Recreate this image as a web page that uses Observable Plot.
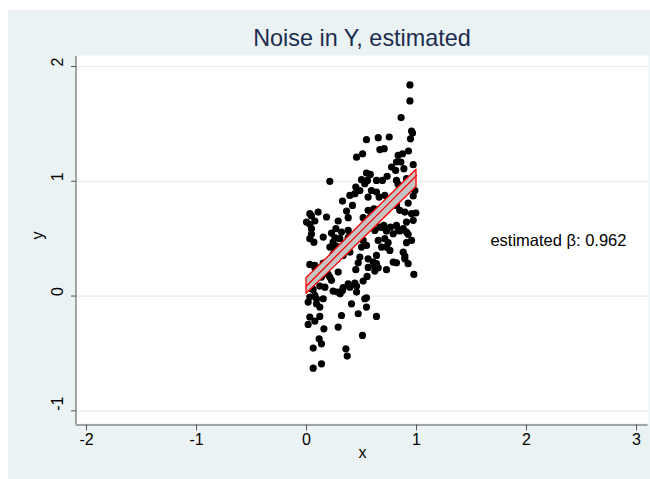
<!DOCTYPE html>
<html><head><meta charset="utf-8">
<script src="https://cdn.jsdelivr.net/npm/d3@7"></script>
<script src="https://cdn.jsdelivr.net/npm/@observablehq/plot@0.6"></script>
<style>
body{margin:0;background:#fff;font-family:"Liberation Sans",Arial,sans-serif;}
#bg{position:absolute;left:8px;top:10px;width:642px;height:469px;background:#eaf2f3;}
#title{position:absolute;left:76px;top:24px;width:572px;text-align:center;font-size:23.4px;line-height:28px;color:#1c2d4f;}
#chart{position:absolute;left:8px;top:50px;}
</style>
</head><body>
<div id="bg"></div>
<div id="title">Noise in Y, estimated</div>
<div id="chart"></div>
<script>
const xTicks = [-2, -1, 0, 1, 2, 3];
const yTicks = [-1, 0, 1, 2];
const xs = [
.94,.94,.86,.955,.964,.927,
.545,.652,.752,.945,.667,.706,.51,.455,.833,.873,.818,.858,.97,.773,.81,.885,.212,.545,.58,.636,.69,.733,.5,.555,.53,.448,.485,.44,.394,.818,.833,.909,.955,.985,.97,.59,.636,.712,.56,.66,
.327,.418,.56,.612,.652,.69,.818,.924,.894,.955,.994,.97,.848,.58,.03,.106,0.0,.076,.182,.045,.03,.067,.152,.227,.267,.318,.379,.242,.303,.212,.258,.318,.394,.455,.5,.53,.56,.606,.621,.667,.703,.733,.764,.818,.833,.879,.909,.515,.652,.712,.682,.727,.545,.5,.394,.333,.636,.758,.879,.955,.788,.909,
.03,.076,.152,.485,.56,.606,.636,.788,.894,.924,.136,.212,.288,.227,.03,.045,.03,.076,.167,.448,.551,.727,.976,.379,.439,.394,.282,.327,.306,.455,.091,.152,.015,.091,.409,.53,.545,.03,.121,.318,.47,.636,.121,
.015,.076,.158,.288,.509,.115,.136,.061,.358,.37,.061,.136,
.045,.03,.045,.273,.258,.379,.424,.288,.379,.364,.515,.545,.727,.697,.848,.924,.909,.894,.818,.621,.652,.561,.47,.742,.242,.273,.076,.197,.121,.333,.242,.455,.515,.621,.06,.545
];
const ys = [
1.84,1.70,1.555,1.438,1.42,1.264,
1.363,1.38,1.386,1.37,1.276,1.284,1.24,1.21,1.226,1.24,1.168,1.168,1.145,1.124,1.095,1.11,1.0,1.072,1.06,1.008,1.008,1.043,1.014,1.008,.979,.95,.92,.892,.877,1.008,.973,1.023,.95,.92,.872,.92,.906,.877,.863,.863,
.828,.79,.747,.761,.753,.747,.79,.81,.732,.718,.724,.66,.747,.689,.718,.732,.645,.654,.689,.587,.5,.47,.514,.549,.587,.558,.572,.47,.5,.427,.398,.412,.456,.543,.572,.616,.645,.66,.572,.601,.616,.587,.601,.616,.572,.587,.645,.485,.485,.5,.427,.427,.441,.427,.383,.354,.354,.398,.383,.485,.543,.558,
.276,.267,.288,.34,.325,.296,.282,.296,.325,.282,.166,.166,.209,.137,.151,.064,-.009,.006,.078,.23,.171,.23,.189,.107,.113,.078,.035,.049,.02,.035,-.023,-.023,-.052,-.067,-.067,-.023,-.096,-.183,-.177,-.169,-.154,-.177,-.096,
-.247,-.218,-.285,-.27,-.343,-.372,-.416,-.453,-.459,-.523,-.628,-.59,
.698,.625,.54,.436,.509,.509,.465,.654,.683,.741,.683,.625,.567,.596,.567,.538,.465,.349,.29,.262,.247,.25,.29,.465,.363,.32,.247,.189,.087,.073,.044,.087,.131,.218,.058,-.015
];
const bandX = [0, 0.25, 0.5, 0.75, 1];
const bandLo = [0.02, 0.25, 0.485, 0.72, 0.95];
const bandHi = [0.155, 0.39, 0.63, 0.865, 1.10];
const bandFit = [0.088, 0.33, 0.57, 0.81, 1.05];
const noteText = "estimated β: 0.962";

const pts = xs.map((x, i) => ({x, y: ys[i]}));
const band = bandX.map((x, i) => ({x, lo: bandLo[i], hi: bandHi[i], fit: bandFit[i]}));
const xDom = [-2.091, 3.109];
const yDom = [-1.11, 2.096];

const chart = Plot.plot({
  width: 642, height: 429,
  marginTop: 5, marginBottom: 56, marginLeft: 68, marginRight: 2,
  style: {background: "transparent", fontFamily: "Liberation Sans, Arial, sans-serif", fontSize: "15px", color: "#000"},
  x: {domain: xDom},
  y: {domain: yDom},
  marks: [
    Plot.frame({fill: "white", stroke: null}),
    Plot.gridY(yTicks, {stroke: "#e3ecee", strokeOpacity: 1, strokeWidth: 1.2}),
    Plot.ruleX([xDom[0]], {stroke: "#555", strokeWidth: 1, dx: -0.5, y1: yDom[0], y2: yDom[1], dy: 1}),
    Plot.ruleY([yDom[0]], {stroke: "#555", strokeWidth: 1, dy: 1.5, x1: xDom[0], x2: xDom[1], dx: -0.5}),
    Plot.axisY({ticks: yTicks, tickSize: 5, tickFormat: () => "", label: null, stroke: "#555"}),
    Plot.text(yTicks, {y: d => d, frameAnchor: "left", rotate: -90, dx: -19, text: d => String(d), fontSize: 16, fill: "#000"}),
    Plot.axisX({ticks: xTicks, tickSize: 6, tickPadding: 3, tickFormat: d => String(d), label: null, fontSize: 16, stroke: "#555", dy: 1.5}),
    Plot.text(["x"], {frameAnchor: "bottom", dy: 34, fontSize: 16, fill: "#000"}),
    Plot.text(["y"], {frameAnchor: "left", rotate: -90, dx: -39, fontSize: 16, fill: "#000"}),
    Plot.dot(pts, {x: "x", y: "y", r: 3.6, fill: "black", stroke: null}),
    Plot.areaY(band, {x: "x", y1: "lo", y2: "hi", fill: "#c4c4c4", stroke: "#ff0000", strokeWidth: 1.3}),
    Plot.line(band, {x: "x", y: "fit", stroke: "#ff0000", strokeWidth: 1.3}),
    Plot.text([noteText], {x: 2.29, y: 0.48, fontSize: 16.5, fill: "#000"})
  ]
});
document.getElementById("chart").appendChild(chart);
</script>
</body></html>
